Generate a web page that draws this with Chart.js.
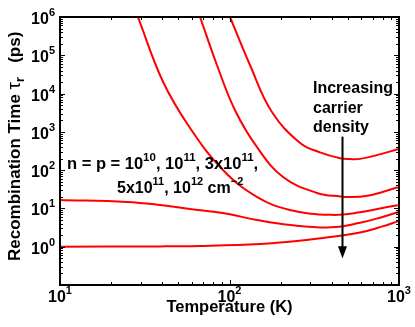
<!DOCTYPE html>
<html lang="en">
<head>
<meta charset="UTF-8">
<title>Recombination time vs temperature</title>
<script src="https://cdn.jsdelivr.net/npm/chart.js"></script>
<style>
  body { margin: 0; background: #fff; }
</style>
</head>
<body>
<canvas id="chart" width="415" height="327"></canvas>
<script>
// one curve per carrier density n = p (cm^-2)
const temp1 = [100.7, 132, 178, 261, 342, 449, 515, 589, 780, 1000];   // 1e10
const tau1  = [1e6, 55800, 3300, 513, 290, 205, 195, 197, 262, 358];
const temp2 = [67, 84.3, 107.6, 145, 207, 328, 450, 530, 650, 800, 1000]; // 1e11
const tau2  = [1e6, 55800, 3730, 404, 66.4, 25.4, 20.5, 19.8, 21.5, 27, 36.4];
const temp3 = [28.8, 40.6, 58.5, 91.5, 145, 227, 400, 589, 800, 1000]; // 3e11
const tau3  = [1e6, 20100, 1265, 101, 20, 9.1, 6.8, 7.9, 10.3, 12.3];
const temp4 = [10, 24.8, 39, 58.5, 91.5, 145, 227, 400, 589, 800, 1000]; // 5e11
const tau4  = [16.7, 14.8, 12.3, 9.7, 7.6, 5.0, 3.7, 3.2, 4.2, 6.0, 8.1];
const temp5 = [10, 39, 67, 152, 250, 356, 589, 800, 1000];             // 1e12
const tau5  = [1.0, 1.02, 1.05, 1.18, 1.4, 1.7, 2.35, 3.4, 4.7];

const xTickExps = [1, 2, 3];
const yTickExps = [0, 1, 2, 3, 4, 5, 6];

// "increasing carrier density" arrow
const arrowTemp = 461;
const arrowTau = [750, 0.5];

const FONT = '"Liberation Sans", Arial, Helvetica, sans-serif';
const font = (size, bold) => (bold === false ? '' : 'bold ') + size + 'px ' + FONT;

// pieces: [text, size, dy, bold]
function drawRuns(ctx, runs, x, y, align) {
  let w = 0;
  runs.forEach(r => { ctx.font = font(r[1], r[3]); w += ctx.measureText(r[0]).width; });
  let cx = align === 'center' ? x - w / 2 : align === 'right' ? x - w : x;
  ctx.textAlign = 'left';
  ctx.textBaseline = 'alphabetic';
  runs.forEach(r => {
    ctx.font = font(r[1], r[3]);
    ctx.fillText(r[0], cx, y + (r[2] || 0));
    cx += ctx.measureText(r[0]).width;
  });
}

const pairs = (xs, ys) => xs.map((t, i) => ({ x: t, y: ys[i] }));

const decor = {
  id: 'decor',
  afterDatasetsDraw(chart) {
    const { ctx, chartArea: a, scales: { x, y } } = chart;
    ctx.save();
    ctx.fillStyle = '#000';
    ctx.strokeStyle = '#000';

    // inward ticks on all four sides
    ctx.lineWidth = 1;
    ctx.beginPath();
    for (let e = 1; e <= 3; e++) for (let m = 1; m < 10; m++) {
      const v = m * 10 ** e;
      if (v > 1000) break;
      const px = Math.round(x.getPixelForValue(v)) + 0.5;
      const len = m === 1 ? 5 : 3;
      ctx.moveTo(px, a.bottom); ctx.lineTo(px, a.bottom - len);
      ctx.moveTo(px, a.top); ctx.lineTo(px, a.top + len);
    }
    for (let e = -1; e <= 6; e++) for (let m = 1; m < 10; m++) {
      const v = m * 10 ** e;
      if (v > 1e6) break;
      const py = Math.round(y.getPixelForValue(v)) + 0.5;
      const len = m === 1 ? 5 : 3;
      ctx.moveTo(a.left, py); ctx.lineTo(a.left + len, py);
      ctx.moveTo(a.right, py); ctx.lineTo(a.right - len, py);
    }
    ctx.stroke();

    ctx.lineWidth = 2;
    ctx.strokeRect(a.left, a.top, a.right - a.left, a.bottom - a.top);

    // tick labels
    yTickExps.forEach(e => {
      const py = y.getPixelForValue(10 ** e);
      drawRuns(ctx, [['10', 16], [String(e), 11, -8]], a.left - 5, py + 7, 'right');
    });
    xTickExps.forEach(e => {
      const px = x.getPixelForValue(10 ** e);
      drawRuns(ctx, [['10', 16], [String(e), 11, -8]], px, 302, 'center');
    });

    // axis titles
    drawRuns(ctx, [['Temperature (K)', 16.5]], (a.left + a.right) / 2, 312, 'center');
    ctx.save();
    ctx.translate(20, 261);
    ctx.rotate(-Math.PI / 2);
    drawRuns(ctx, [['Recombination Time ', 17], ['\u03c4', 19, 0, false], ['r', 12.5, 4],
      ['   (ps)', 17]], 0, 0, 'left');
    ctx.restore();

    // density label
    drawRuns(ctx, [['n = p = 10', 16.5], ['10', 11.5, -8], [', 10', 16.5], ['11', 11.5, -8],
      [', 3x10', 16.5], ['11', 11.5, -8], [',', 16.5]], 67, 169, 'left');
    drawRuns(ctx, [['5x10', 16], ['11', 11, -8], [', 10', 16], ['12', 11, -8],
      [' cm', 16], ['\u22122', 11, -8]], 117, 193, 'left');

    ['Increasing', 'carrier', 'density'].forEach((s, i) => {
      drawRuns(ctx, [[s, 16]], 313, 93 + i * 19.5, 'left');
    });

    // arrow
    const ax = Math.round(x.getPixelForValue(arrowTemp)) + 0.5;
    const ay0 = y.getPixelForValue(arrowTau[0]);
    const ay1 = y.getPixelForValue(arrowTau[1]);
    ctx.lineWidth = 2;
    ctx.beginPath();
    ctx.moveTo(ax, ay0);
    ctx.lineTo(ax, ay1 - 8);
    ctx.stroke();
    ctx.beginPath();
    ctx.moveTo(ax - 4.5, ay1 - 12);
    ctx.lineTo(ax + 4.5, ay1 - 12);
    ctx.lineTo(ax, ay1);
    ctx.closePath();
    ctx.fill();

    ctx.restore();
  }
};

const curve = (xs, ys) => ({
  data: pairs(xs, ys),
  borderColor: '#ff0000',
  borderWidth: 2,
  pointRadius: 0,
  fill: false,
  tension: 0.4
});

new Chart(document.getElementById('chart'), {
  type: 'line',
  data: {
    datasets: [
      curve(temp1, tau1),
      curve(temp2, tau2),
      curve(temp3, tau3),
      curve(temp4, tau4),
      curve(temp5, tau5)
    ]
  },
  options: {
    responsive: false,
    animation: false,
    layout: { padding: { left: 60, top: 17, right: 16, bottom: 42 } },
    plugins: { legend: { display: false }, tooltip: { enabled: false } },
    scales: {
      x: {
        type: 'logarithmic', min: 10, max: 1000,
        ticks: { display: false },
        grid: { display: false, drawTicks: false },
        border: { display: false }
      },
      y: {
        type: 'logarithmic', min: 0.1, max: 1e6,
        ticks: { display: false },
        grid: { display: false, drawTicks: false },
        border: { display: false }
      }
    }
  },
  plugins: [decor]
});
</script>
</body>
</html>
